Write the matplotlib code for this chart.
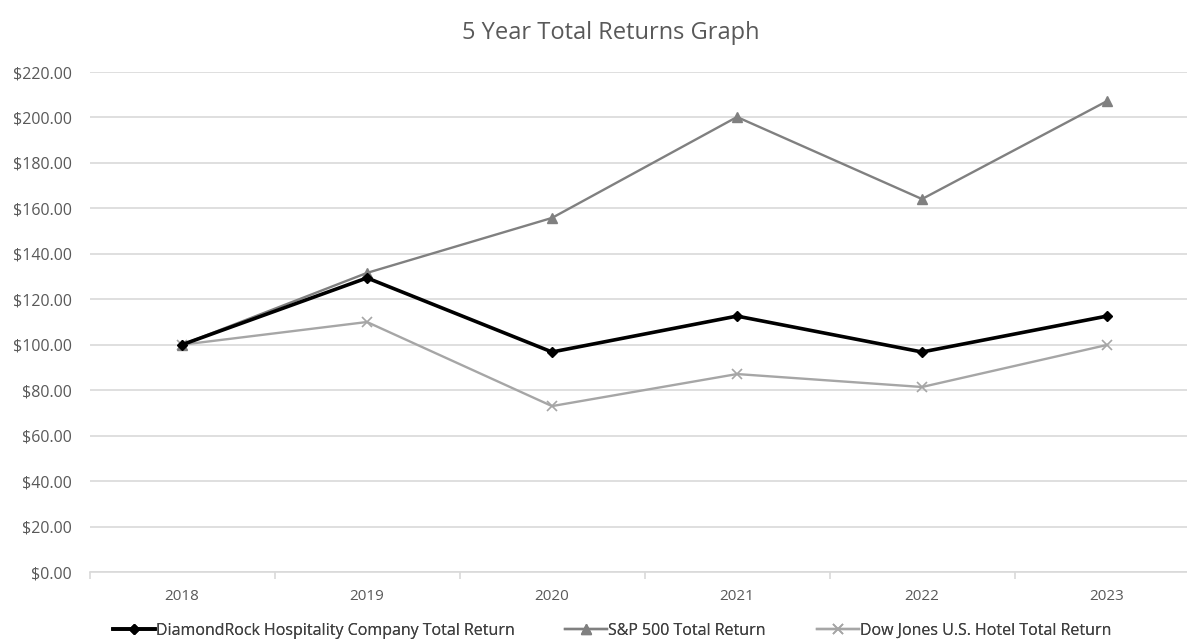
import matplotlib.pyplot as plt
import matplotlib.ticker as mticker
import numpy as np

years = ['2018', '2019', '2020', '2021', '2022', '2023']
diamondrock = [100.0, 129.4, 96.8, 112.6, 96.8, 112.6]
sp500 = [100.0, 131.6, 155.8, 200.2, 164.1, 207.2]
dj_hotel = [100.0, 110.0, 73.0, 87.1, 81.4, 99.9]

plt.rcParams['font.family'] = ['Open Sans', 'DejaVu Sans']

fig = plt.figure(figsize=(11.87, 6.42), dpi=100)
ax = fig.add_axes([89.5 / 1187, 1 - 572 / 642, 6 * 185 / 1187, 500 / 642])

x = np.arange(len(years))
l1, = ax.plot(x, diamondrock, color='black', lw=2.6, marker='D', ms=5.5,
              label='DiamondRock Hospitality Company Total Return', zorder=4)
l2, = ax.plot(x, sp500, color='#808080', lw=1.7, marker='^', ms=7,
              label='S&P 500 Total Return', zorder=3)
l3, = ax.plot(x, dj_hotel, color='#A6A6A6', lw=1.7, marker='x', ms=7, mew=1.2,
              label='Dow Jones U.S. Hotel Total Return', zorder=2)

ax.set_xlim(-0.5, 5.5)
ax.set_ylim(0, 220)
ax.yaxis.set_major_locator(mticker.MultipleLocator(20))
ax.yaxis.set_major_formatter(mticker.StrMethodFormatter('${x:,.2f}'))
ax.grid(axis='y', color='#D9D9D9', lw=1.2)
ax.set_axisbelow(True)

ax.set_xticks(x)
ax.set_xticklabels(years)
ax.set_xticks(np.arange(-0.5, 6, 1), minor=True)
ax.tick_params(axis='x', which='major', length=0, pad=12, labelsize=11, labelcolor='#595959')
ax.tick_params(axis='x', which='minor', length=5, color='#D9D9D9', width=1.2)
ax.tick_params(axis='y', length=0, pad=12.5, labelsize=11.5, labelcolor='#595959')

for s in ['top', 'right', 'left']:
    ax.spines[s].set_visible(False)
ax.spines['bottom'].set_color('#D9D9D9')
ax.spines['bottom'].set_linewidth(1.2)

fig.text(611 / 1187, 1 - 33 / 642, '5 Year Total Returns Graph', ha='center', va='center',
         fontsize=17, color='#595959')

# legend entries placed one by one, like the original layout
for line, x0 in [(l1, 113), (l2, 565), (l3, 817)]:
    leg = fig.legend(handles=[line], loc='center left', bbox_to_anchor=(x0 / 1187, 1 - 631 / 642),
                     frameon=False, fontsize=11.5, labelcolor='#404040', handlelength=2.6,
                     handletextpad=0.1, borderpad=0, borderaxespad=0)
    fig.add_artist(leg)

fig.savefig('out.png', dpi=100)
